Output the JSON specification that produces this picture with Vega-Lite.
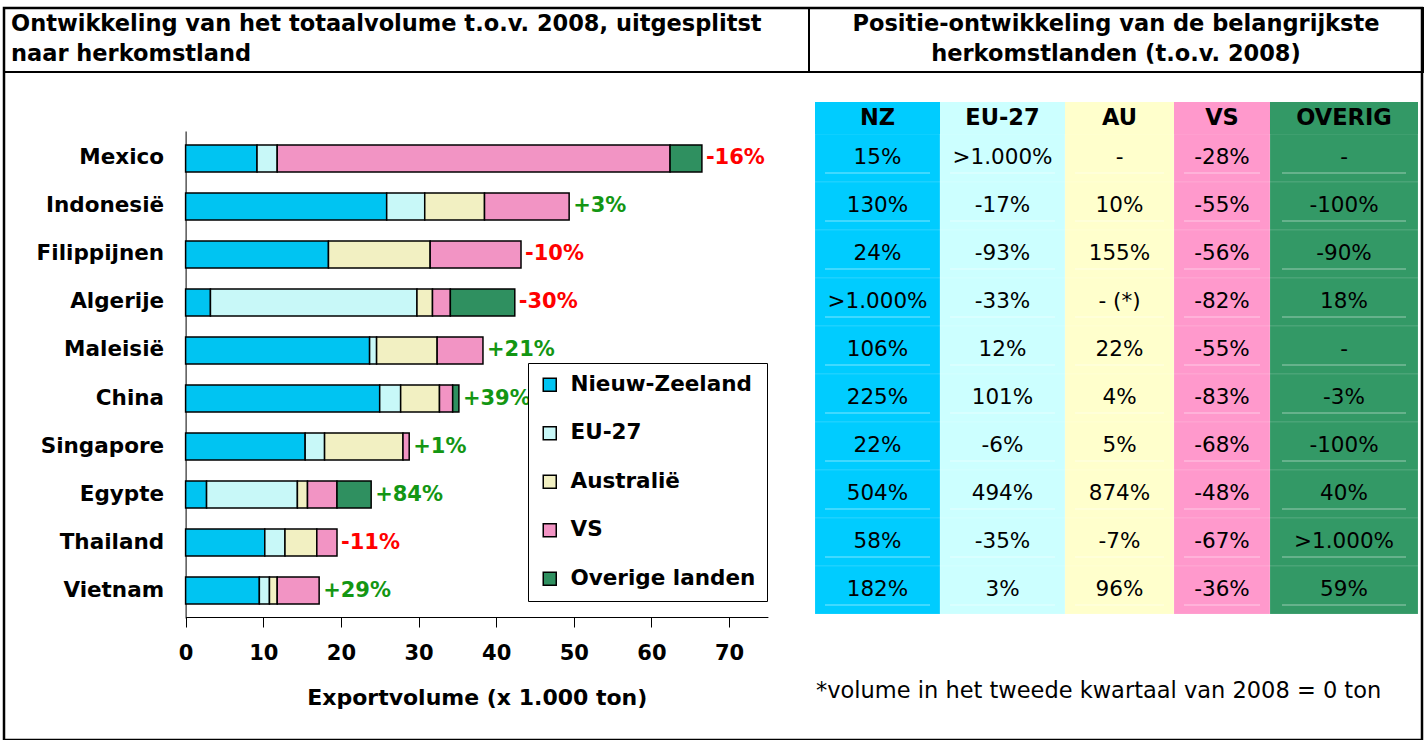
{
  "$schema": "https://vega.github.io/schema/vega-lite/v6.json",
  "width": 1425,
  "height": 740,
  "autosize": {"type": "fit", "contains": "padding"},
  "padding": {"left": 3, "top": 7, "right": 3, "bottom": 0},
  "background": "white",
  "config": {"view": {"stroke": "#000", "strokeWidth": 2.5}},
  "datasets": {
    "bars": [
      {"country": "Mexico", "origin": "Nieuw-Zeeland", "k": 1, "value": 9.2, "change": "-16%"},
      {"country": "Mexico", "origin": "EU-27", "k": 2, "value": 2.6, "change": "-16%"},
      {"country": "Mexico", "origin": "VS", "k": 4, "value": 50.6, "change": "-16%"},
      {"country": "Mexico", "origin": "Overige landen", "k": 5, "value": 4.1, "change": "-16%"},
      {"country": "Indonesië", "origin": "Nieuw-Zeeland", "k": 1, "value": 25.9, "change": "+3%"},
      {"country": "Indonesië", "origin": "EU-27", "k": 2, "value": 4.9, "change": "+3%"},
      {"country": "Indonesië", "origin": "Australië", "k": 3, "value": 7.7, "change": "+3%"},
      {"country": "Indonesië", "origin": "VS", "k": 4, "value": 10.9, "change": "+3%"},
      {"country": "Filippijnen", "origin": "Nieuw-Zeeland", "k": 1, "value": 18.4, "change": "-10%"},
      {"country": "Filippijnen", "origin": "Australië", "k": 3, "value": 13.1, "change": "-10%"},
      {"country": "Filippijnen", "origin": "VS", "k": 4, "value": 11.7, "change": "-10%"},
      {"country": "Algerije", "origin": "Nieuw-Zeeland", "k": 1, "value": 3.2, "change": "-30%"},
      {"country": "Algerije", "origin": "EU-27", "k": 2, "value": 26.6, "change": "-30%"},
      {"country": "Algerije", "origin": "Australië", "k": 3, "value": 2.0, "change": "-30%"},
      {"country": "Algerije", "origin": "VS", "k": 4, "value": 2.3, "change": "-30%"},
      {"country": "Algerije", "origin": "Overige landen", "k": 5, "value": 8.3, "change": "-30%"},
      {"country": "Maleisië", "origin": "Nieuw-Zeeland", "k": 1, "value": 23.7, "change": "+21%"},
      {"country": "Maleisië", "origin": "EU-27", "k": 2, "value": 0.9, "change": "+21%"},
      {"country": "Maleisië", "origin": "Australië", "k": 3, "value": 7.8, "change": "+21%"},
      {"country": "Maleisië", "origin": "VS", "k": 4, "value": 5.9, "change": "+21%"},
      {"country": "China", "origin": "Nieuw-Zeeland", "k": 1, "value": 25.0, "change": "+39%"},
      {"country": "China", "origin": "EU-27", "k": 2, "value": 2.7, "change": "+39%"},
      {"country": "China", "origin": "Australië", "k": 3, "value": 5.0, "change": "+39%"},
      {"country": "China", "origin": "VS", "k": 4, "value": 1.7, "change": "+39%"},
      {"country": "China", "origin": "Overige landen", "k": 5, "value": 0.8, "change": "+39%"},
      {"country": "Singapore", "origin": "Nieuw-Zeeland", "k": 1, "value": 15.4, "change": "+1%"},
      {"country": "Singapore", "origin": "EU-27", "k": 2, "value": 2.5, "change": "+1%"},
      {"country": "Singapore", "origin": "Australië", "k": 3, "value": 10.1, "change": "+1%"},
      {"country": "Singapore", "origin": "VS", "k": 4, "value": 0.8, "change": "+1%"},
      {"country": "Egypte", "origin": "Nieuw-Zeeland", "k": 1, "value": 2.7, "change": "+84%"},
      {"country": "Egypte", "origin": "EU-27", "k": 2, "value": 11.7, "change": "+84%"},
      {"country": "Egypte", "origin": "Australië", "k": 3, "value": 1.3, "change": "+84%"},
      {"country": "Egypte", "origin": "VS", "k": 4, "value": 3.8, "change": "+84%"},
      {"country": "Egypte", "origin": "Overige landen", "k": 5, "value": 4.4, "change": "+84%"},
      {"country": "Thailand", "origin": "Nieuw-Zeeland", "k": 1, "value": 10.2, "change": "-11%"},
      {"country": "Thailand", "origin": "EU-27", "k": 2, "value": 2.6, "change": "-11%"},
      {"country": "Thailand", "origin": "Australië", "k": 3, "value": 4.1, "change": "-11%"},
      {"country": "Thailand", "origin": "VS", "k": 4, "value": 2.6, "change": "-11%"},
      {"country": "Vietnam", "origin": "Nieuw-Zeeland", "k": 1, "value": 9.5, "change": "+29%"},
      {"country": "Vietnam", "origin": "EU-27", "k": 2, "value": 1.3, "change": "+29%"},
      {"country": "Vietnam", "origin": "Australië", "k": 3, "value": 1.0, "change": "+29%"},
      {"country": "Vietnam", "origin": "VS", "k": 4, "value": 5.4, "change": "+29%"}
    ],
    "tbl": [
      {"country": "Mexico", "col": "NZ", "val": "15%"},
      {"country": "Mexico", "col": "EU-27", "val": ">1.000%"},
      {"country": "Mexico", "col": "AU", "val": "-"},
      {"country": "Mexico", "col": "VS", "val": "-28%"},
      {"country": "Mexico", "col": "OVERIG", "val": "-"},
      {"country": "Indonesië", "col": "NZ", "val": "130%"},
      {"country": "Indonesië", "col": "EU-27", "val": "-17%"},
      {"country": "Indonesië", "col": "AU", "val": "10%"},
      {"country": "Indonesië", "col": "VS", "val": "-55%"},
      {"country": "Indonesië", "col": "OVERIG", "val": "-100%"},
      {"country": "Filippijnen", "col": "NZ", "val": "24%"},
      {"country": "Filippijnen", "col": "EU-27", "val": "-93%"},
      {"country": "Filippijnen", "col": "AU", "val": "155%"},
      {"country": "Filippijnen", "col": "VS", "val": "-56%"},
      {"country": "Filippijnen", "col": "OVERIG", "val": "-90%"},
      {"country": "Algerije", "col": "NZ", "val": ">1.000%"},
      {"country": "Algerije", "col": "EU-27", "val": "-33%"},
      {"country": "Algerije", "col": "AU", "val": "- (*)"},
      {"country": "Algerije", "col": "VS", "val": "-82%"},
      {"country": "Algerije", "col": "OVERIG", "val": "18%"},
      {"country": "Maleisië", "col": "NZ", "val": "106%"},
      {"country": "Maleisië", "col": "EU-27", "val": "12%"},
      {"country": "Maleisië", "col": "AU", "val": "22%"},
      {"country": "Maleisië", "col": "VS", "val": "-55%"},
      {"country": "Maleisië", "col": "OVERIG", "val": "-"},
      {"country": "China", "col": "NZ", "val": "225%"},
      {"country": "China", "col": "EU-27", "val": "101%"},
      {"country": "China", "col": "AU", "val": "4%"},
      {"country": "China", "col": "VS", "val": "-83%"},
      {"country": "China", "col": "OVERIG", "val": "-3%"},
      {"country": "Singapore", "col": "NZ", "val": "22%"},
      {"country": "Singapore", "col": "EU-27", "val": "-6%"},
      {"country": "Singapore", "col": "AU", "val": "5%"},
      {"country": "Singapore", "col": "VS", "val": "-68%"},
      {"country": "Singapore", "col": "OVERIG", "val": "-100%"},
      {"country": "Egypte", "col": "NZ", "val": "504%"},
      {"country": "Egypte", "col": "EU-27", "val": "494%"},
      {"country": "Egypte", "col": "AU", "val": "874%"},
      {"country": "Egypte", "col": "VS", "val": "-48%"},
      {"country": "Egypte", "col": "OVERIG", "val": "40%"},
      {"country": "Thailand", "col": "NZ", "val": "58%"},
      {"country": "Thailand", "col": "EU-27", "val": "-35%"},
      {"country": "Thailand", "col": "AU", "val": "-7%"},
      {"country": "Thailand", "col": "VS", "val": "-67%"},
      {"country": "Thailand", "col": "OVERIG", "val": ">1.000%"},
      {"country": "Vietnam", "col": "NZ", "val": "182%"},
      {"country": "Vietnam", "col": "EU-27", "val": "3%"},
      {"country": "Vietnam", "col": "AU", "val": "96%"},
      {"country": "Vietnam", "col": "VS", "val": "-36%"},
      {"country": "Vietnam", "col": "OVERIG", "val": "59%"}
    ],
    "hdr": [
      {"col": "NZ", "label": "NZ"},
      {"col": "EU-27", "label": "EU-27"},
      {"col": "AU", "label": "AU"},
      {"col": "VS", "label": "VS"},
      {"col": "OVERIG", "label": "OVERIG"}
    ]
  },
  "layer": [
    {
      "data": {"values": [{"cell": "L", "t": "Ontwikkeling van het totaalvolume t.o.v. 2008, uitgesplitst\nnaar herkomstland"}]},
      "encoding": {
        "x": {"field": "cell", "type": "nominal", "scale": {"type": "band", "domain": ["L"], "range": [0, 805], "paddingInner": 0, "paddingOuter": 0}, "axis": null},
        "y": {"field": "cell", "type": "nominal", "scale": {"type": "band", "domain": ["L"], "range": [0, 64], "paddingInner": 0, "paddingOuter": 0}, "axis": null}
      },
      "layer": [
        {"mark": {"type": "rect", "filled": false, "stroke": "#000", "strokeWidth": 2}},
        {"mark": {"type": "text", "align": "left", "baseline": "middle", "dx": 7, "dy": -16, "lineBreak": "\n", "lineHeight": 30, "font": "DejaVu Sans", "fontWeight": "bold", "fontSize": 22.5, "color": "#000"},
         "encoding": {"x": {"field": "cell", "type": "nominal", "bandPosition": 0}, "text": {"field": "t"}}}
      ]
    },
    {
      "data": {"values": [{"cell": "R", "t": "Positie-ontwikkeling van de belangrijkste\nherkomstlanden (t.o.v. 2008)"}]},
      "encoding": {
        "x": {"field": "cell", "type": "nominal", "scale": {"type": "band", "domain": ["R"], "range": [805, 1419], "paddingInner": 0, "paddingOuter": 0}, "axis": null},
        "y": {"field": "cell", "type": "nominal", "scale": {"type": "band", "domain": ["R"], "range": [0, 64], "paddingInner": 0, "paddingOuter": 0}, "axis": null}
      },
      "layer": [
        {"mark": {"type": "rect", "filled": false, "stroke": "#000", "strokeWidth": 2}},
        {"mark": {"type": "text", "align": "center", "baseline": "middle", "dy": -16, "lineBreak": "\n", "lineHeight": 30, "font": "DejaVu Sans", "fontWeight": "bold", "fontSize": 22.5, "color": "#000"},
         "encoding": {"text": {"field": "t"}}}
      ]
    },
    {
      "data": {"name": "tbl"},
      "transform": [{"filter": "datum.col === 'NZ'"}],
      "encoding": {
        "x": {"field": "col", "type": "nominal", "scale": {"type": "band", "domain": ["NZ"], "range": [811, 936], "paddingInner": 0, "paddingOuter": 0}, "axis": null},
        "y": {"field": "country", "type": "nominal", "scale": {"type": "band", "domain": ["Mexico", "Indonesië", "Filippijnen", "Algerije", "Maleisië", "China", "Singapore", "Egypte", "Thailand", "Vietnam"], "range": [126, 606], "paddingInner": 0, "paddingOuter": 0}, "axis": null}
      },
      "layer": [
        {"mark": {"type": "rect", "fill": "#00ccff", "stroke": "#ffffff", "strokeOpacity": 0.12, "strokeWidth": 1}},
        {"mark": {"type": "tick", "orient": "horizontal", "size": 105, "thickness": 1, "color": "#ffffff", "opacity": 0.5, "yOffset": 15}},
        {"mark": {"type": "text", "font": "DejaVu Sans", "fontSize": 21.5, "color": "#000"}, "encoding": {"text": {"field": "val"}}}
      ]
    },
    {
      "data": {"name": "tbl"},
      "transform": [{"filter": "datum.col === 'EU-27'"}],
      "encoding": {
        "x": {"field": "col", "type": "nominal", "scale": {"type": "band", "domain": ["EU-27"], "range": [936, 1061], "paddingInner": 0, "paddingOuter": 0}, "axis": null},
        "y": {"field": "country", "type": "nominal", "scale": {"type": "band", "domain": ["Mexico", "Indonesië", "Filippijnen", "Algerije", "Maleisië", "China", "Singapore", "Egypte", "Thailand", "Vietnam"], "range": [126, 606], "paddingInner": 0, "paddingOuter": 0}, "axis": null}
      },
      "layer": [
        {"mark": {"type": "rect", "fill": "#ccffff", "stroke": "#ffffff", "strokeOpacity": 0.12, "strokeWidth": 1}},
        {"mark": {"type": "tick", "orient": "horizontal", "size": 105, "thickness": 1, "color": "#ffffff", "opacity": 0.5, "yOffset": 15}},
        {"mark": {"type": "text", "font": "DejaVu Sans", "fontSize": 21.5, "color": "#000"}, "encoding": {"text": {"field": "val"}}}
      ]
    },
    {
      "data": {"name": "tbl"},
      "transform": [{"filter": "datum.col === 'AU'"}],
      "encoding": {
        "x": {"field": "col", "type": "nominal", "scale": {"type": "band", "domain": ["AU"], "range": [1061, 1170], "paddingInner": 0, "paddingOuter": 0}, "axis": null},
        "y": {"field": "country", "type": "nominal", "scale": {"type": "band", "domain": ["Mexico", "Indonesië", "Filippijnen", "Algerije", "Maleisië", "China", "Singapore", "Egypte", "Thailand", "Vietnam"], "range": [126, 606], "paddingInner": 0, "paddingOuter": 0}, "axis": null}
      },
      "layer": [
        {"mark": {"type": "rect", "fill": "#ffffcc", "stroke": "#ffffff", "strokeOpacity": 0.12, "strokeWidth": 1}},
        {"mark": {"type": "tick", "orient": "horizontal", "size": 89, "thickness": 1, "color": "#ffffff", "opacity": 0.5, "yOffset": 15}},
        {"mark": {"type": "text", "font": "DejaVu Sans", "fontSize": 21.5, "color": "#000"}, "encoding": {"text": {"field": "val"}}}
      ]
    },
    {
      "data": {"name": "tbl"},
      "transform": [{"filter": "datum.col === 'VS'"}],
      "encoding": {
        "x": {"field": "col", "type": "nominal", "scale": {"type": "band", "domain": ["VS"], "range": [1170, 1266], "paddingInner": 0, "paddingOuter": 0}, "axis": null},
        "y": {"field": "country", "type": "nominal", "scale": {"type": "band", "domain": ["Mexico", "Indonesië", "Filippijnen", "Algerije", "Maleisië", "China", "Singapore", "Egypte", "Thailand", "Vietnam"], "range": [126, 606], "paddingInner": 0, "paddingOuter": 0}, "axis": null}
      },
      "layer": [
        {"mark": {"type": "rect", "fill": "#ff99cc", "stroke": "#ffffff", "strokeOpacity": 0.12, "strokeWidth": 1}},
        {"mark": {"type": "tick", "orient": "horizontal", "size": 76, "thickness": 1, "color": "#ffffff", "opacity": 0.5, "yOffset": 15}},
        {"mark": {"type": "text", "font": "DejaVu Sans", "fontSize": 21.5, "color": "#000"}, "encoding": {"text": {"field": "val"}}}
      ]
    },
    {
      "data": {"name": "tbl"},
      "transform": [{"filter": "datum.col === 'OVERIG'"}],
      "encoding": {
        "x": {"field": "col", "type": "nominal", "scale": {"type": "band", "domain": ["OVERIG"], "range": [1266, 1414], "paddingInner": 0, "paddingOuter": 0}, "axis": null},
        "y": {"field": "country", "type": "nominal", "scale": {"type": "band", "domain": ["Mexico", "Indonesië", "Filippijnen", "Algerije", "Maleisië", "China", "Singapore", "Egypte", "Thailand", "Vietnam"], "range": [126, 606], "paddingInner": 0, "paddingOuter": 0}, "axis": null}
      },
      "layer": [
        {"mark": {"type": "rect", "fill": "#339966", "stroke": "#ffffff", "strokeOpacity": 0.12, "strokeWidth": 1}},
        {"mark": {"type": "tick", "orient": "horizontal", "size": 124, "thickness": 1, "color": "#ffffff", "opacity": 0.5, "yOffset": 15}},
        {"mark": {"type": "text", "font": "DejaVu Sans", "fontSize": 21.5, "color": "#000"}, "encoding": {"text": {"field": "val"}}}
      ]
    },
    {
      "data": {"name": "hdr"},
      "transform": [{"filter": "datum.col === 'NZ'"}],
      "encoding": {
        "x": {"field": "col", "type": "nominal", "scale": {"type": "band", "domain": ["NZ"], "range": [811, 936], "paddingInner": 0, "paddingOuter": 0}, "axis": null},
        "y": {"field": "col", "type": "nominal", "scale": {"type": "band", "domain": ["NZ"], "range": [94, 126], "paddingInner": 0, "paddingOuter": 0}, "axis": null}
      },
      "layer": [
        {"mark": {"type": "rect", "fill": "#00ccff"}},
        {"mark": {"type": "text", "font": "DejaVu Sans", "fontWeight": "bold", "fontSize": 22.5, "color": "#000"}, "encoding": {"text": {"field": "label"}}}
      ]
    },
    {
      "data": {"name": "hdr"},
      "transform": [{"filter": "datum.col === 'EU-27'"}],
      "encoding": {
        "x": {"field": "col", "type": "nominal", "scale": {"type": "band", "domain": ["EU-27"], "range": [936, 1061], "paddingInner": 0, "paddingOuter": 0}, "axis": null},
        "y": {"field": "col", "type": "nominal", "scale": {"type": "band", "domain": ["EU-27"], "range": [94, 126], "paddingInner": 0, "paddingOuter": 0}, "axis": null}
      },
      "layer": [
        {"mark": {"type": "rect", "fill": "#ccffff"}},
        {"mark": {"type": "text", "font": "DejaVu Sans", "fontWeight": "bold", "fontSize": 22.5, "color": "#000"}, "encoding": {"text": {"field": "label"}}}
      ]
    },
    {
      "data": {"name": "hdr"},
      "transform": [{"filter": "datum.col === 'AU'"}],
      "encoding": {
        "x": {"field": "col", "type": "nominal", "scale": {"type": "band", "domain": ["AU"], "range": [1061, 1170], "paddingInner": 0, "paddingOuter": 0}, "axis": null},
        "y": {"field": "col", "type": "nominal", "scale": {"type": "band", "domain": ["AU"], "range": [94, 126], "paddingInner": 0, "paddingOuter": 0}, "axis": null}
      },
      "layer": [
        {"mark": {"type": "rect", "fill": "#ffffcc"}},
        {"mark": {"type": "text", "font": "DejaVu Sans", "fontWeight": "bold", "fontSize": 22.5, "color": "#000"}, "encoding": {"text": {"field": "label"}}}
      ]
    },
    {
      "data": {"name": "hdr"},
      "transform": [{"filter": "datum.col === 'VS'"}],
      "encoding": {
        "x": {"field": "col", "type": "nominal", "scale": {"type": "band", "domain": ["VS"], "range": [1170, 1266], "paddingInner": 0, "paddingOuter": 0}, "axis": null},
        "y": {"field": "col", "type": "nominal", "scale": {"type": "band", "domain": ["VS"], "range": [94, 126], "paddingInner": 0, "paddingOuter": 0}, "axis": null}
      },
      "layer": [
        {"mark": {"type": "rect", "fill": "#ff99cc"}},
        {"mark": {"type": "text", "font": "DejaVu Sans", "fontWeight": "bold", "fontSize": 22.5, "color": "#000"}, "encoding": {"text": {"field": "label"}}}
      ]
    },
    {
      "data": {"name": "hdr"},
      "transform": [{"filter": "datum.col === 'OVERIG'"}],
      "encoding": {
        "x": {"field": "col", "type": "nominal", "scale": {"type": "band", "domain": ["OVERIG"], "range": [1266, 1414], "paddingInner": 0, "paddingOuter": 0}, "axis": null},
        "y": {"field": "col", "type": "nominal", "scale": {"type": "band", "domain": ["OVERIG"], "range": [94, 126], "paddingInner": 0, "paddingOuter": 0}, "axis": null}
      },
      "layer": [
        {"mark": {"type": "rect", "fill": "#339966"}},
        {"mark": {"type": "text", "font": "DejaVu Sans", "fontWeight": "bold", "fontSize": 22.5, "color": "#000"}, "encoding": {"text": {"field": "label"}}}
      ]
    },
    {
      "data": {"values": [{"n": "*volume in het tweede kwartaal van 2008 = 0 ton"}]},
      "mark": {"type": "text", "align": "left", "baseline": "middle", "font": "DejaVu Sans", "fontSize": 22.5, "color": "#000"},
      "encoding": {
        "x": {"field": "n", "type": "nominal", "bandPosition": 0, "scale": {"type": "band", "range": [812, 1414], "paddingInner": 0, "paddingOuter": 0}, "axis": null},
        "y": {"field": "n", "type": "nominal", "scale": {"type": "band", "range": [666, 700], "paddingInner": 0, "paddingOuter": 0}, "axis": null},
        "text": {"field": "n"}
      }
    },
    {
      "data": {"name": "bars"},
      "encoding": {
        "y": {"field": "country", "type": "nominal", "sort": null,
              "scale": {"domain": ["Mexico", "Indonesië", "Filippijnen", "Algerije", "Maleisië", "China", "Singapore", "Egypte", "Thailand", "Vietnam"], "range": [123, 610], "paddingInner": 0.4375, "paddingOuter": 0.29},
              "axis": {"orient": "left", "offset": -181.6, "title": null, "domain": true, "domainColor": "#000", "domainWidth": 1, "ticks": false, "tickSize": 0, "labelPadding": 22, "labelFont": "DejaVu Sans", "labelFontWeight": "bold", "labelFontSize": 21.5, "labelColor": "#000", "labelLimit": 300, "grid": false}}
      },
      "layer": [
        {
          "mark": {"type": "bar", "stroke": "#000", "strokeWidth": 1.5},
          "encoding": {
            "x": {"field": "value", "type": "quantitative", "stack": "zero",
                  "scale": {"domain": [0, 75], "range": [181.6, 763.9], "nice": false, "zero": true},
                  "axis": {"orient": "bottom", "offset": -123, "values": [0, 10, 20, 30, 40, 50, 60, 70], "grid": false, "domainColor": "#000", "domainWidth": 1, "tickColor": "#000", "tickSize": 10, "labelPadding": 15, "labelFont": "DejaVu Sans", "labelFontWeight": "bold", "labelFontSize": 21, "labelColor": "#000", "labelFlush": false,
                           "title": "Exportvolume (x 1.000 ton)", "titleFont": "DejaVu Sans", "titleFontWeight": "bold", "titleFontSize": 22, "titleColor": "#000", "titlePadding": 24}},
            "color": {"field": "origin", "type": "nominal",
                      "scale": {"domain": ["Nieuw-Zeeland", "EU-27", "Australië", "VS", "Overige landen"], "range": ["#00c4f2", "#c8f8f8", "#f2f0c2", "#f294c4", "#2f9060"]},
                      "legend": {"orient": "none", "legendX": 524, "legendY": 355, "title": null, "padding": 11, "strokeColor": "#000", "fillColor": "#fff", "symbolType": "square", "symbolSize": 169, "symbolStrokeColor": "#000", "symbolStrokeWidth": 1.5, "symbolOpacity": 1, "labelFont": "DejaVu Sans", "labelFontWeight": "bold", "labelFontSize": 21.5, "labelColor": "#000", "labelLimit": 400, "rowPadding": 25.5, "labelOffset": 10}},
            "order": {"field": "k", "type": "quantitative"}
          }
        },
        {
          "mark": {"type": "text", "align": "left", "baseline": "middle", "dx": 4, "font": "DejaVu Sans", "fontWeight": "bold", "fontSize": 21},
          "encoding": {
            "x": {"field": "value", "type": "quantitative", "aggregate": "sum"},
            "text": {"field": "change", "type": "nominal"},
            "color": {"condition": {"test": "indexof(datum.change, '-') === 0", "value": "#ff0000"}, "value": "#139613"}
          }
        }
      ]
    }
  ],
  "resolve": {"scale": {"x": "independent", "y": "independent", "color": "independent"}}
}
